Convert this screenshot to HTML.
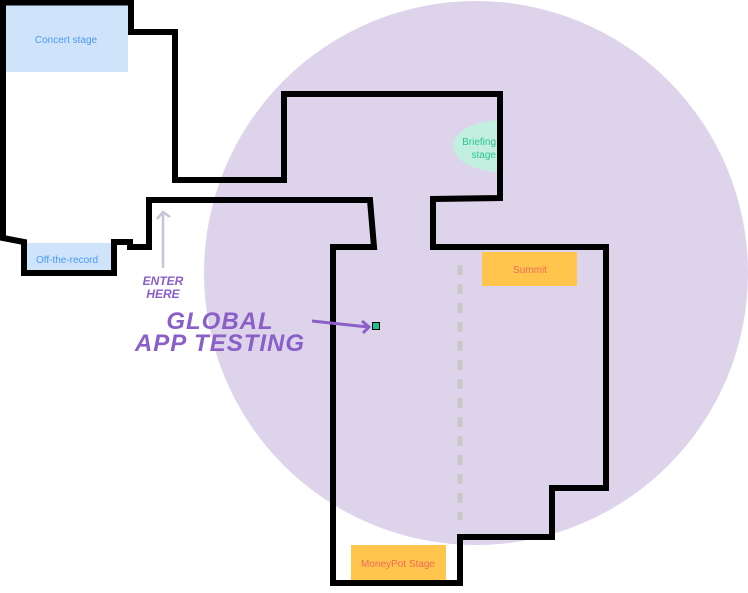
<!DOCTYPE html>
<html><head><style>
body{margin:0;width:748px;height:588px;overflow:hidden;background:#fff;font-family:"Liberation Sans",sans-serif}
</style></head><body>
<svg width="748" height="588" viewBox="0 0 748 588" xmlns="http://www.w3.org/2000/svg">
<circle cx="476" cy="273" r="272" fill="#ddd3eb"/>
<rect x="6" y="5" width="122" height="67" fill="#cfe4fb"/>
<text x="66" y="43" font-size="10" fill="#4a9af5" text-anchor="middle">Concert stage</text>
<rect x="25" y="243" width="86" height="30" fill="#cfe4fb"/>
<text x="67" y="263" font-size="10" fill="#4a9af5" text-anchor="middle">Off-the-record</text>
<clipPath id="c"><rect x="0" y="0" width="500" height="588"/></clipPath>
<ellipse cx="502" cy="146" rx="49" ry="26" fill="#c3efe0" clip-path="url(#c)"/>
<text x="496" y="145" font-size="10" fill="#2bc78f" text-anchor="end">Briefing</text>
<text x="496" y="158" font-size="10" fill="#2bc78f" text-anchor="end">stage</text>
<rect x="482" y="252" width="95" height="34" fill="#ffc54d"/>
<text x="530" y="273" font-size="10" fill="#f46a5a" text-anchor="middle">Summit</text>
<rect x="351" y="545" width="95" height="35" fill="#ffc54d"/>
<text x="398" y="567" font-size="10" fill="#f46a5a" text-anchor="middle">MoneyPot Stage</text>
<line x1="460" y1="265" x2="460" y2="520" stroke="#c8c8c8" stroke-width="5" stroke-dasharray="10 9"/>
<g fill="none" stroke="#000" stroke-width="6" stroke-linejoin="miter">
<path d="M0,2.5 H131 V32 H175 V180 H284 V94 H500 V198 L433,199 V247 H606 V488 H552 V537 H460 V583 H333 V247 H374 L370,200 H149 V247 H130 V242 H114 V273 H24 V242 L3,238 V0"/>
</g>
<line x1="163" y1="268" x2="163" y2="214" stroke="#c9c3d6" stroke-width="2.5"/>
<path d="M157,219 L163,212 L170,217" fill="none" stroke="#c9c3d6" stroke-width="2.5"/>
<g fill="#8a5fc7" font-weight="bold" font-style="italic" text-anchor="middle">
<text x="163" y="285" font-size="12">ENTER</text>
<text x="163" y="298" font-size="12">HERE</text>
<text x="220" y="329" font-size="24" letter-spacing="1">GLOBAL</text>
<text x="220" y="351" font-size="24" letter-spacing="1">APP TESTING</text>
</g>
<path d="M312,321 L368,327" stroke="#8a5fc7" stroke-width="3" fill="none"/>
<path d="M362,321 L369,327 L363,333" stroke="#8a5fc7" stroke-width="3" fill="none"/>
<rect x="372.5" y="322.5" width="7" height="7" fill="#1fbf8f" stroke="#000" stroke-width="1"/>
</svg>
</body></html>
